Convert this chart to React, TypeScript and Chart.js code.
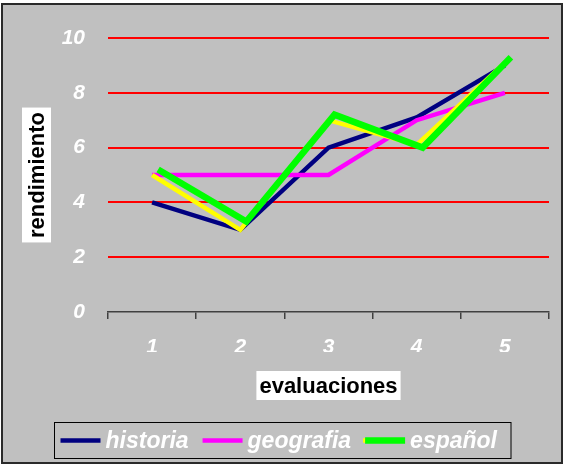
import React, { useEffect, useRef } from 'react';
import { Chart, registerables } from 'chart.js';

Chart.register(...registerables);

// ---- data ----
const categories = ['1', '2', '3', '4', '5'];
const historia = [4, 3, 6, 7.1, 9];
const geografia = [5, 5, 5, 7, 8];
const espanolSombra = [5, 3, 7, 6.1, 9.1];
const espanol = [5.2, 3.3, 7.2, 6, 9.3];
const seriesLabels = ['historia', 'geografia', 'español'];
const yMin = 0;
const yMax = 10;
const yStep = 2;
const xTitle = 'evaluaciones';
const yTitle = 'rendimiento';

const FONT = '"Liberation Sans", Arial, Helvetica, sans-serif';
const BG_GRAY = '#C0C0C0';

const framePlugin = {
  id: 'frame',
  beforeDraw(chart: any) {
    const { ctx, width, height } = chart;
    ctx.save();
    ctx.fillStyle = '#FFFFFF';
    ctx.fillRect(0, 0, width, height);
    ctx.fillStyle = BG_GRAY;
    ctx.fillRect(2, 4, width - 4, height - 13);
    ctx.strokeStyle = '#2a2a2a';
    ctx.lineWidth = 2;
    ctx.strokeRect(2, 4, width - 4, height - 13);
    ctx.restore();
  },
};

const shiftPlugin = {
  id: 'shift',
  beforeDatasetDraw(chart: any, args: any) {
    const ds = chart.data.datasets[args.index];
    if (ds.xShift) {
      chart.ctx.save();
      chart.ctx.translate(ds.xShift, 0);
    }
  },
  afterDatasetDraw(chart: any, args: any) {
    const ds = chart.data.datasets[args.index];
    if (ds.xShift) chart.ctx.restore();
  },
};

const titlesPlugin = {
  id: 'titles',
  afterDraw(chart: any) {
    const { ctx, chartArea } = chart;
    ctx.save();
    ctx.font = `bold 22px ${FONT}`;
    ctx.textAlign = 'center';
    ctx.textBaseline = 'middle';
    // x title
    const cx = (chartArea.left + chartArea.right) / 2;
    const xw = ctx.measureText(xTitle).width + 6;
    const xTop = chartArea.bottom + 59;
    ctx.fillStyle = '#FFFFFF';
    ctx.fillRect(cx - xw / 2, xTop, xw, 29);
    ctx.fillStyle = '#000000';
    ctx.fillText(xTitle, cx, xTop + 15.5);
    // y title
    const cy = (chartArea.top + chartArea.bottom) / 2;
    const yw = ctx.measureText(yTitle).width + 9;
    const yLeft = 22;
    ctx.fillStyle = '#FFFFFF';
    ctx.fillRect(yLeft, cy - yw / 2, 29, yw);
    ctx.translate(yLeft + 15.5, cy);
    ctx.rotate(-Math.PI / 2);
    ctx.fillStyle = '#000000';
    ctx.fillText(yTitle, 0, 0);
    ctx.restore();
  },
};

const legendPlugin = {
  id: 'boxLegend',
  afterDraw(chart: any) {
    const { ctx, width } = chart;
    const items = chart.data.datasets.filter((d: any) => d.inLegend);
    ctx.save();
    ctx.font = `italic bold 23px ${FONT}`;
    const sw = 40;
    const gap = 5;
    const between = 14;
    let total = 0;
    items.forEach((d: any, i: number) => {
      total += sw + gap + ctx.measureText(d.label).width + (i < items.length - 1 ? between : 0);
    });
    const boxW = total + 20;
    const boxL = Math.round(width / 2 - boxW / 2) + 0.5;
    const boxT = 422.5;
    const boxH = 36;
    ctx.strokeStyle = '#000000';
    ctx.lineWidth = 1;
    ctx.strokeRect(boxL, boxT, boxW, boxH);
    let x = boxL + 6;
    const cy = boxT + boxH / 2;
    items.forEach((d: any) => {
      if (d.legendShadow) {
        const sh = chart.data.datasets.find((s: any) => s.label === d.legendShadow);
        if (sh) {
          ctx.strokeStyle = sh.borderColor;
          ctx.lineWidth = sh.borderWidth;
          ctx.beginPath();
          ctx.moveTo(x - 2, cy);
          ctx.lineTo(x + sw - 2, cy);
          ctx.stroke();
        }
      }
      ctx.strokeStyle = d.borderColor;
      ctx.lineWidth = d.borderWidth;
      ctx.beginPath();
      ctx.moveTo(x, cy);
      ctx.lineTo(x + sw, cy);
      ctx.stroke();
      x += sw + gap;
      ctx.fillStyle = '#FFFFFF';
      ctx.textAlign = 'left';
      ctx.textBaseline = 'middle';
      ctx.fillText(d.label, x, cy + 1);
      x += ctx.measureText(d.label).width + between;
    });
    ctx.restore();
  },
};

export default function App() {
  const ref = useRef<HTMLCanvasElement>(null);

  useEffect(() => {
    if (!ref.current) return;
    const tickFont = { family: FONT, size: 21, weight: 'bold' as const, style: 'italic' as const };
    const common = {
      fill: false,
      pointRadius: 0,
      pointHoverRadius: 0,
      tension: 0,
      borderJoinStyle: 'miter' as const,
      borderCapStyle: 'butt' as const,
      clip: false as const,
    };
    const chart = new Chart(ref.current, {
      type: 'line',
      data: {
        labels: categories,
        datasets: [
          { ...common, label: seriesLabels[0], data: historia, borderColor: '#000080', backgroundColor: '#000080', borderWidth: 4.5, order: 4, inLegend: true } as any,
          { ...common, label: seriesLabels[1], data: geografia, borderColor: '#FF00FF', backgroundColor: '#FF00FF', borderWidth: 4.5, order: 3, inLegend: true } as any,
          { ...common, label: 'sombra', data: espanolSombra, borderColor: '#FFFF00', backgroundColor: '#FFFF00', borderWidth: 4.5, order: 2, inLegend: false } as any,
          { ...common, label: seriesLabels[2], data: espanol, borderColor: '#00FF00', backgroundColor: '#00FF00', borderWidth: 6.5, order: 1, inLegend: true, xShift: 6, legendShadow: 'sombra' } as any,
        ],
      },
      options: {
        responsive: false,
        animation: false,
        events: [],
        layout: { padding: { top: 38, right: 15, bottom: 120, left: 0 } },
        plugins: {
          legend: { display: false },
          tooltip: { enabled: false },
          title: { display: false },
        },
        scales: {
          x: {
            offset: true,
            grid: {
              display: true,
              drawOnChartArea: false,
              drawTicks: true,
              tickLength: 7,
              offset: true,
              color: '#404040',
              lineWidth: 1.5,
            },
            border: { display: true, color: '#404040', width: 1.5 },
            ticks: { color: '#FFFFFF', font: tickFont, padding: 16, maxRotation: 0, autoSkip: false },
            afterFit: (s: any) => {
              s.height = 40;
            },
          },
          y: {
            min: yMin,
            max: yMax,
            ticks: { stepSize: yStep, color: '#FFFFFF', font: tickFont, padding: 23 },
            grid: {
              color: (c: any) => (c.tick && c.tick.value === 0 ? 'rgba(0,0,0,0)' : '#FF0000'),
              lineWidth: 2,
              drawTicks: false,
            },
            border: { display: false },
            afterFit: (s: any) => {
              s.width = 108;
            },
          },
        },
      },
      plugins: [framePlugin, shiftPlugin, titlesPlugin, legendPlugin],
    });
    return () => chart.destroy();
  }, []);

  return (
    <div style={{ position: 'absolute', left: 0, top: 0, width: 564, height: 472 }}>
      <canvas ref={ref} width={564} height={472} style={{ display: 'block' }} />
    </div>
  );
}
